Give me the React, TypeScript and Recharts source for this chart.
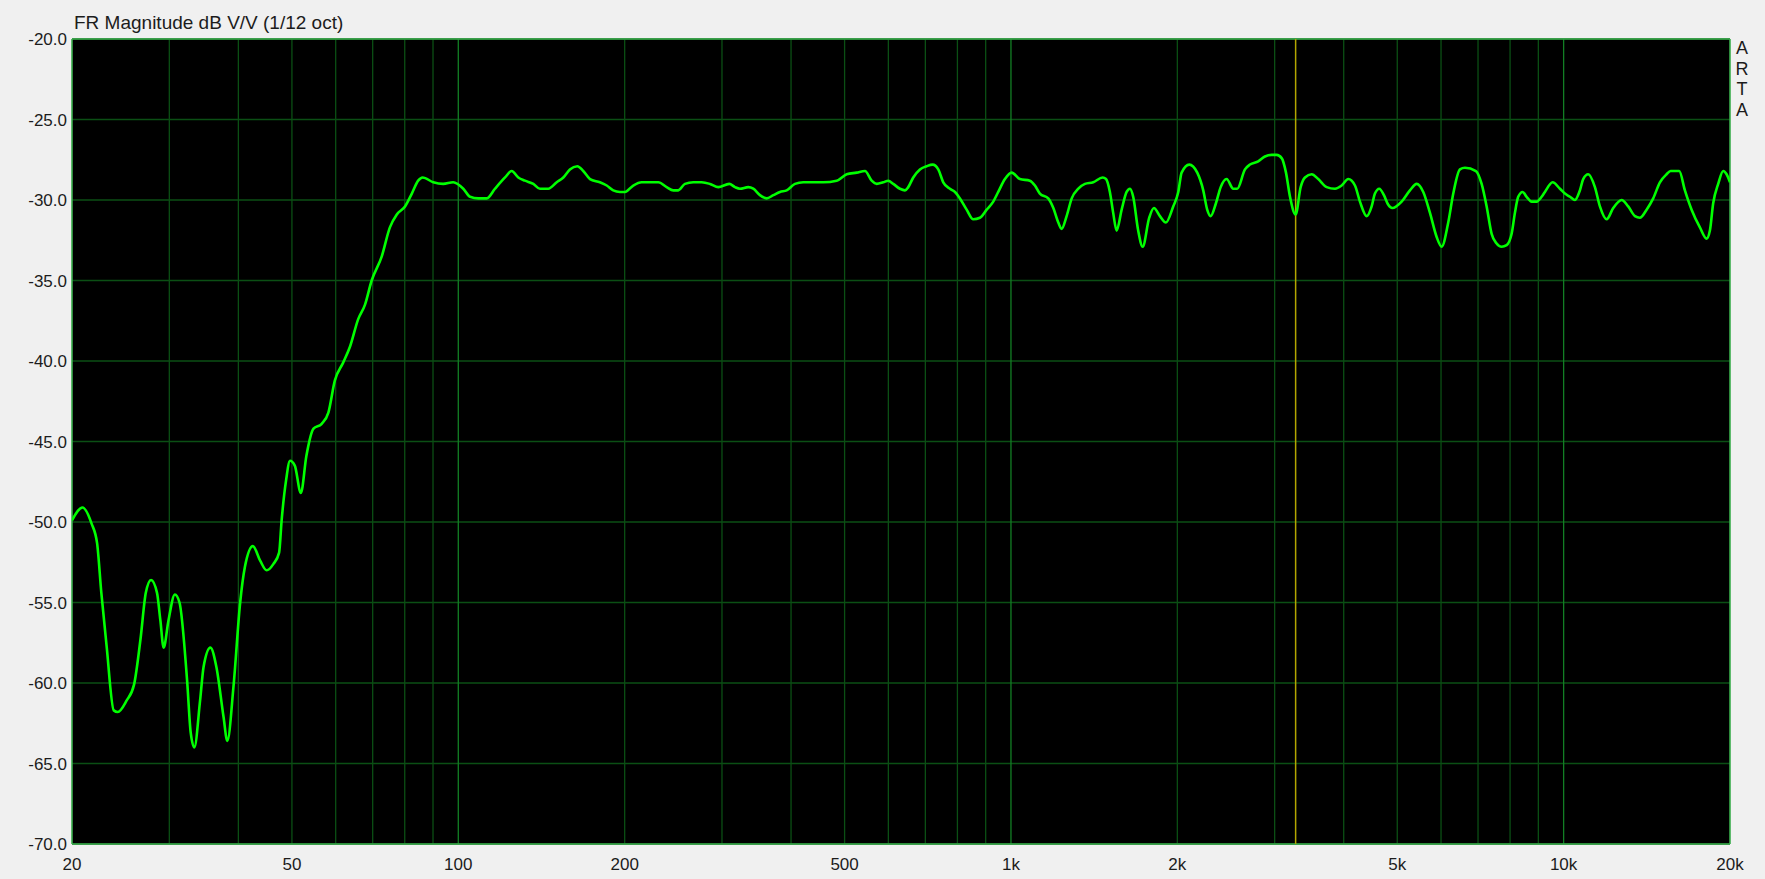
import React from 'react';
import { CartesianGrid, Line, LineChart, ReferenceLine, XAxis, YAxis } from 'recharts';

// frequency response (Hz / dB V/V)
const FREQS_HZ = [
  20, 20.9, 21.7, 22.2, 22.6, 23.1, 23.8, 24.2, 25.1, 25.9,
  26.6, 27.2, 27.8, 28.5, 28.9, 29.3, 29.9, 30.7, 31.3, 32.3,
  32.8, 33.3, 34.1, 34.6, 35.6, 36.5, 37.6, 38.2, 39.2, 40.3,
  41.1, 42.5, 43.8, 45.0, 46.3, 47.4, 47.9, 48.8, 49.6, 50.6,
  51.9, 53.1, 54.7, 56.6, 58.2, 59.8, 61.9, 63.7, 65.9, 67.8,
  69.7, 72.7, 75.2, 77.4, 80.1, 82.4, 84.6, 86.2, 90.1, 93.9,
  97.9, 102.1, 105.0, 108.7, 112.6, 116.5, 121.5, 124.9, 128.4, 132.0,
  136.7, 140.5, 145.5, 150.7, 154.9, 159.2, 164.2, 168.3, 173.1, 180.4,
  185.6, 190.7, 196.1, 200.2, 207.3, 214.7, 222.2, 230.1, 238.2, 244.9,
  250.0, 257.1, 266.2, 275.6, 285.3, 295.4, 309.2, 316.7, 323.3, 334.7,
  341.8, 351.4, 361.4, 371.5, 382.0, 392.8, 406.6, 420.9, 457.5, 483.8,
  504.4, 525.8, 544.3, 559.7, 571.5, 587.4, 599.8, 612.4, 629.7, 643.0,
  651.9, 665.6, 684.4, 703.8, 721.6, 738.7, 754.2, 775.5, 791.9, 808.5,
  831.4, 854.6, 878.8, 903.7, 928.8, 948.4, 975.2, 1003, 1038, 1082,
  1105, 1128, 1168, 1193, 1218, 1235, 1261, 1288, 1324, 1361,
  1409, 1465, 1486, 1510, 1531, 1553, 1586, 1619, 1642, 1664,
  1699, 1731, 1779, 1814, 1860, 1907, 1966, 2008, 2036, 2102,
  2173, 2228, 2265, 2298, 2349, 2396, 2456, 2525, 2567, 2651,
  2707, 2802, 2881, 2963, 3025, 3089, 3145, 3198, 3274, 3343,
  3404, 3500, 3598, 3726, 3857, 3966, 4077, 4192, 4280, 4402,
  4494, 4556, 4639, 4730, 4816, 4897, 5092, 5271, 5421, 5572,
  5730, 5892, 6016, 6183, 6314, 6492, 6629, 6940, 7106, 7256,
  7408, 7564, 7723, 7886, 8052, 8163, 8276, 8429, 8571, 8751,
  8936, 9124, 9250, 9552, 9847, 10054, 10266, 10482, 10702, 10850,
  11079, 11392, 11632, 11961, 12295, 12733, 13087, 13458, 13741, 14130,
  14524, 14935, 15357, 15616, 16185, 16574, 17043, 17643, 18142, 18393,
  18647, 19040, 19440, 19719, 20000,
];

const LEVEL_DB = [
  -49.9, -49.1, -50.1, -51.3, -54.4, -57.7, -61.7, -61.8, -61.1, -60.1,
  -57.3, -54.4, -53.6, -54.4, -56.1, -57.8, -56.1, -54.5, -55.0, -59.8,
  -63.1, -64.0, -61.1, -59.0, -57.8, -59.0, -62.1, -63.6, -60.2, -55.0,
  -52.8, -51.5, -52.4, -53.0, -52.6, -51.9, -49.9, -47.4, -46.2, -46.5,
  -48.2, -45.9, -44.2, -43.9, -43.2, -41.2, -40.1, -39.1, -37.4, -36.5,
  -35.0, -33.5, -31.7, -30.9, -30.4, -29.6, -28.8, -28.6, -28.9, -29.0,
  -28.9, -29.3, -29.8, -29.9, -29.9, -29.3, -28.6, -28.2, -28.6, -28.8,
  -29.0, -29.3, -29.3, -28.9, -28.6, -28.1, -27.9, -28.2, -28.7, -28.9,
  -29.1, -29.4, -29.5, -29.5, -29.1, -28.9, -28.9, -28.9, -29.2, -29.4,
  -29.4, -29.0, -28.9, -28.9, -29.0, -29.2, -29.0, -29.2, -29.3, -29.2,
  -29.3, -29.7, -29.9, -29.7, -29.5, -29.4, -29.0, -28.9, -28.9, -28.8,
  -28.4, -28.3, -28.2, -28.8, -29.0, -28.9, -28.8, -29.0, -29.3, -29.4,
  -29.2, -28.6, -28.1, -27.9, -27.8, -28.1, -28.9, -29.3, -29.5, -29.9,
  -30.6, -31.2, -31.1, -30.6, -30.1, -29.5, -28.7, -28.3, -28.7, -28.8,
  -29.1, -29.6, -29.9, -30.5, -31.4, -31.8, -31.0, -29.9, -29.3, -29.0,
  -28.9, -28.6, -28.7, -29.5, -30.8, -31.9, -30.6, -29.5, -29.3, -29.8,
  -31.9, -32.9, -31.1, -30.5, -31.0, -31.4, -30.4, -29.5, -28.3, -27.8,
  -28.3, -29.4, -30.6, -31.0, -30.2, -29.2, -28.7, -29.3, -29.3, -28.1,
  -27.8, -27.6, -27.3, -27.2, -27.2, -27.4, -28.3, -29.8, -30.9, -29.2,
  -28.6, -28.4, -28.7, -29.2, -29.3, -29.1, -28.7, -29.1, -30.1, -31.0,
  -30.4, -29.6, -29.3, -29.7, -30.3, -30.5, -30.1, -29.4, -29.0, -29.5,
  -30.8, -32.3, -32.9, -31.4, -29.6, -28.1, -28.0, -28.2, -29.0, -30.4,
  -32.1, -32.7, -32.9, -32.8, -32.1, -30.8, -29.8, -29.5, -29.8, -30.1,
  -30.1, -29.8, -29.5, -28.9, -29.3, -29.6, -29.8, -30.0, -29.4, -28.7,
  -28.4, -29.2, -30.4, -31.2, -30.5, -30.0, -30.4, -31.0, -31.1, -30.6,
  -29.9, -28.9, -28.4, -28.2, -28.2, -29.4, -30.6, -31.7, -32.4, -31.9,
  -30.2, -29.0, -28.2, -28.4, -28.9,
];

const X_TICKS = [20, 50, 100, 200, 500, 1000, 2000, 5000, 10000, 20000];
const Y_TICKS = [-70, -65, -60, -55, -50, -45, -40, -35, -30, -25, -20];
const GRID_MINOR = [
  30, 40, 50, 60, 70, 80, 90,
  200, 300, 400, 500, 600, 700, 800, 900,
  2000, 3000, 4000, 5000, 6000, 7000, 8000, 9000,
];
const GRID_DECADE = [100, 1000, 10000];
const CURSOR_HZ = 3274;

const FONT = '"Liberation Sans", Arial, sans-serif';
const TEXT = '#1c1c1c';
const GRID = '#0b4f14';
const GRID_DEC = '#127f24';
const FRAME = '#3aad4c';

const fmtFreq = (f: number) => (f >= 1000 ? `${f / 1000}k` : `${f}`);

export default function App(): React.ReactElement {
  const data = FREQS_HZ.map((f, i) => ({ f, db: LEVEL_DB[i] }));
  const tick = { fill: TEXT, fontSize: 17, fontFamily: FONT };

  return (
    <div
      style={{
        position: 'fixed',
        left: 0,
        top: 0,
        width: 1765,
        height: 879,
        background: '#f0f0f0',
        overflow: 'hidden',
      }}
    >
      <div
        style={{
          position: 'absolute',
          left: 74,
          top: 13,
          fontFamily: FONT,
          fontSize: 19,
          lineHeight: '19px',
          color: TEXT,
          whiteSpace: 'nowrap',
        }}
      >
        FR Magnitude dB V/V (1/12 oct)
      </div>
      <div
        style={{
          position: 'absolute',
          left: 1734,
          top: 38,
          width: 16,
          fontFamily: FONT,
          fontSize: 18,
          lineHeight: '20.5px',
          color: TEXT,
          textAlign: 'center',
        }}
      >
        {'ARTA'.split('').map((c, i) => (
          <div key={i}>{c}</div>
        ))}
      </div>

      <LineChart
        width={1765}
        height={879}
        data={data}
        margin={{ top: 39, right: 35, bottom: 0, left: 0 }}
      >
        <CartesianGrid vertical={false} stroke={GRID} strokeWidth={1.3} fill="#000" fillOpacity={1} />
        <XAxis
          dataKey="f"
          type="number"
          scale="log"
          domain={[20, 20000]}
          allowDataOverflow
          ticks={X_TICKS}
          interval={0}
          tickFormatter={fmtFreq}
          tickLine={false}
          axisLine={false}
          tickSize={0}
          tickMargin={14}
          height={35}
          tick={tick}
        />
        <YAxis
          type="number"
          domain={[-70, -20]}
          allowDataOverflow
          ticks={Y_TICKS}
          interval={0}
          tickFormatter={(v: number) => v.toFixed(1)}
          tickLine={false}
          axisLine={false}
          tickSize={0}
          tickMargin={5}
          width={72}
          tick={tick}
        />
        {GRID_MINOR.map((f) => (
          <ReferenceLine key={`g${f}`} x={f} stroke={GRID} strokeWidth={1.3} zIndex={-50} />
        ))}
        {GRID_DECADE.map((f) => (
          <ReferenceLine key={`d${f}`} x={f} stroke={GRID_DEC} strokeWidth={1.3} zIndex={-50} />
        ))}
        <ReferenceLine x={20} stroke={FRAME} strokeWidth={1.6} zIndex={-40} />
        <ReferenceLine x={20000} stroke={FRAME} strokeWidth={1.6} zIndex={-40} />
        <ReferenceLine y={-20} stroke={FRAME} strokeWidth={1.6} zIndex={-40} />
        <ReferenceLine y={-70} stroke={FRAME} strokeWidth={1.6} zIndex={-40} />
        <ReferenceLine x={CURSOR_HZ} stroke="#b3a600" strokeWidth={1.5} zIndex={-30} />
        <Line
          dataKey="db"
          type="monotone"
          stroke="#00ff00"
          strokeWidth={2.6}
          dot={false}
          activeDot={false}
          isAnimationActive={false}
        />
      </LineChart>
    </div>
  );
}
